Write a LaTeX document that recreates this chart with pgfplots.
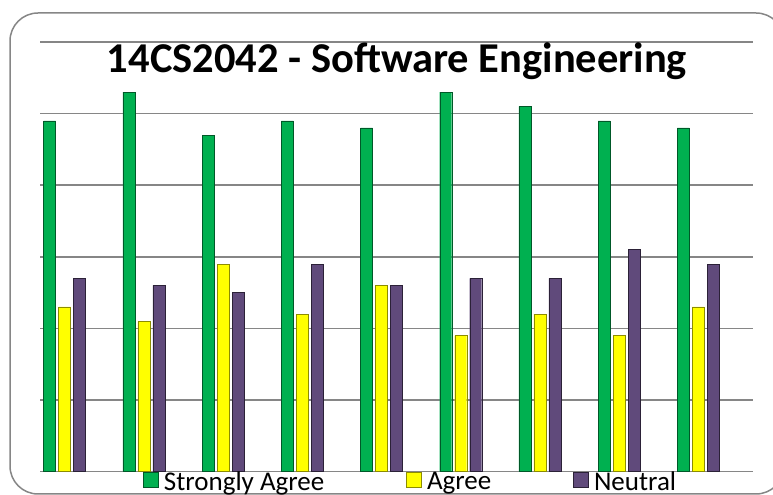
\documentclass[border=0pt]{standalone}
\usepackage{fontspec}
\setmainfont{Carlito}
\usepackage{pgfplots}
\pgfplotsset{compat=1.18}
\definecolor{sagreen}{HTML}{00B050}
\definecolor{agyellow}{HTML}{FFFF00}
\definecolor{neupurple}{HTML}{604A7B}
\definecolor{gridgray}{HTML}{868686}
\begin{document}
\begin{tikzpicture}[x=1bp,y=1bp]
\useasboundingbox (0,0) rectangle (773,495);
\draw[gridgray, line width=1.5bp, rounded corners=28bp] (10,1) rectangle (784,482);
\begin{axis}[
  at={(40bp,23.3bp)}, anchor=south west,
  scale only axis, width=713bp, height=429.7bp,
  xmin=-0.5, xmax=8.5, ymin=0, ymax=60,
  ytick={0,10,...,60}, yticklabels={}, xtick=\empty,
  ymajorgrids, grid style={gridgray, line width=1.5bp},
  axis line style={draw=none}, major tick length=0pt,
  ybar, bar width=12bp, clip=false,
  legend columns=3,
  legend image code/.code={\draw[#1, line width=0.75bp] (0bp,-6bp) rectangle (15bp,9bp);},
  legend style={at={(axis description cs:0.1445,0.005)}, anchor=north west,
    draw=none, fill=none, inner sep=0pt,
    font=\fontsize{27bp}{32bp}\selectfont,
    /tikz/every odd column/.append style={column sep=3bp},
    /tikz/every even column/.append style={column sep=80bp}},
]
\addplot[bar shift=-30bp, fill=sagreen, draw=sagreen!50!black]
  coordinates {(0,49) (1,53) (2,47) (3,49) (4,48) (5,53) (6,51) (7,49) (8,48)};
\addlegendentry{Strongly Agree}
\addplot[bar shift=-15bp, fill=agyellow, draw=agyellow!55!black]
  coordinates {(0,23) (1,21) (2,29) (3,22) (4,26) (5,19) (6,22) (7,19) (8,23)};
\addlegendentry{Agree}
\addplot[bar shift=0bp, fill=neupurple, draw=neupurple!45!black]
  coordinates {(0,27) (1,26) (2,25) (3,29) (4,26) (5,27) (6,27) (7,31) (8,29)};
\addlegendentry{Neutral}
\end{axis}
\node[anchor=base, font=\fontsize{42.5bp}{50bp}\selectfont\bfseries] at (397,422) {14CS2042 - Software Engineering};
\end{tikzpicture}
\end{document}
